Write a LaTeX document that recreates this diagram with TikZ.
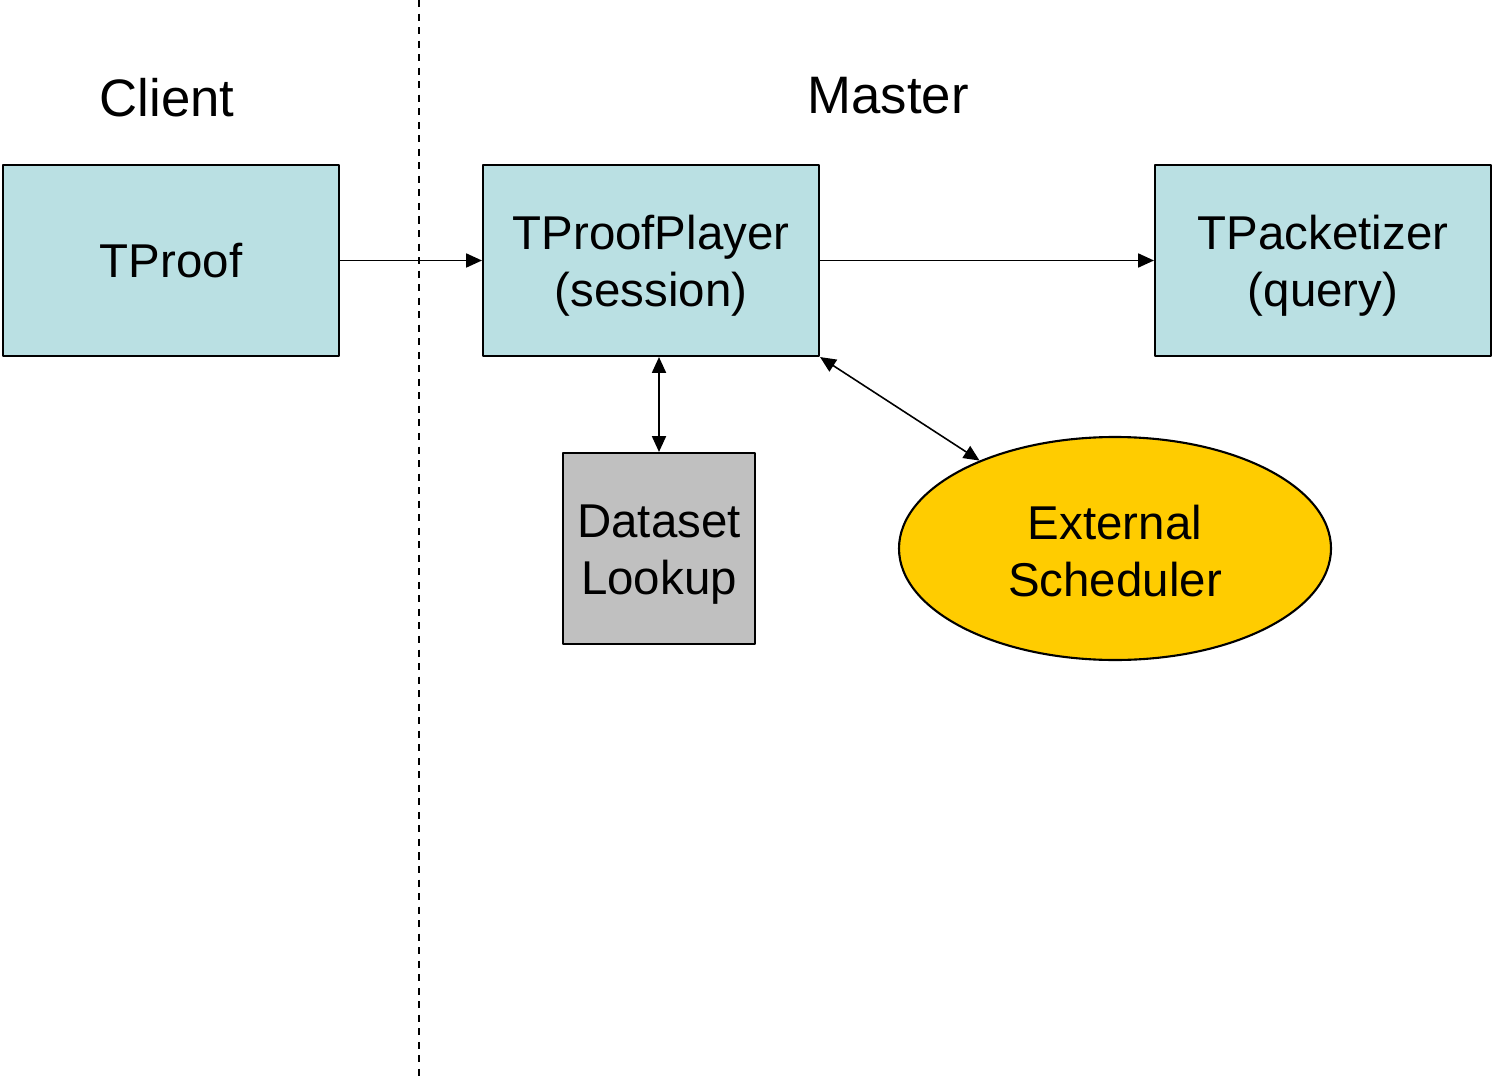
\documentclass[tikz,border=0pt]{standalone}
\usepackage{fontspec}
\setmainfont{Liberation Sans}
\usetikzlibrary{arrows.meta,shapes.geometric}
\definecolor{boxblue}{RGB}{186,224,227}
\definecolor{boxgray}{RGB}{192,192,192}
\definecolor{schedyellow}{RGB}{255,204,0}
\begin{document}
\begin{tikzpicture}[x=1cm, y=1cm, line join=round, >={Triangle[length=4.5pt,width=4pt]},
	comp/.style={draw, line width=0.6pt, fill=boxblue, minimum width=3.36cm, minimum height=1.91cm, align=center, font=\fontsize{13.5}{16.2}\selectfont, inner sep=0pt},
	twoline/.style={text height=29.3pt, text depth=3pt},
	side/.style={font=\fontsize{15}{18}\selectfont},
	link/.style={line width=0.45pt}]
	\useasboundingbox (0,0) rectangle (14.93,-10.80);
	% Client | Master
	\draw[line width=0.45pt, dash pattern=on 2pt off 1.85pt] (4.19,0)--(4.19,-10.80);
	\node[side] (client) at (1.67,-0.98) {Client};
	\node[side] (master) at (8.88,-0.96) {Master};
	% boxes
	\node[comp] (proof) at (1.71,-2.605) {TProof};
	\node[comp, twoline] (player) at (6.51,-2.605) {TProofPlayer\\(session)};
	\node[comp, twoline] (pkt) at (13.23,-2.605) {TPacketizer\\(query)};
	\node[comp, twoline, fill=boxgray, minimum width=1.92cm] (lookup) at (6.59,-5.485) {Dataset\\Lookup};
	\node[draw, line width=0.6pt, fill=schedyellow, ellipse, minimum width=4.32cm, minimum height=2.23cm, inner sep=0pt, align=center, font=\fontsize{13.5}{16.2}\selectfont, text height=30.5pt, text depth=3pt] (sched) at (11.15,-5.485) {External\\Scheduler};
	% arrows
	\draw[link,->] (proof)--(player);
	\draw[link,->] (player)--(pkt);
	\draw[link,<->] (lookup.north |- player.south)--(lookup.north);
	\draw[link,<->] (player.south east)--(sched);
\end{tikzpicture}
\end{document}
